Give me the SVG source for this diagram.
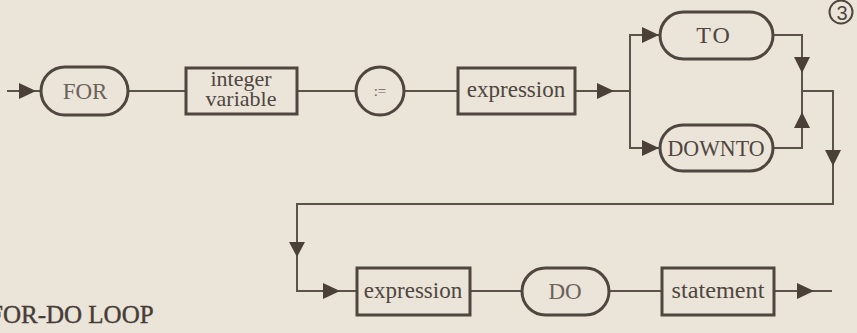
<svg xmlns="http://www.w3.org/2000/svg" width="857" height="333" viewBox="0 0 857 333">
<style>
.bg{fill:#ebe4d9}
.node{fill:none;stroke:#4f4640;stroke-width:3}
.conn{fill:none;stroke:#5a524b;stroke-width:2}
.ah{fill:#4a4038;stroke:none}
.t{font-size:23px;fill:#4f4640;text-anchor:middle}
.kw{fill:#6a625b}
.title{font-size:25px;fill:#463d37;stroke:#463d37;stroke-width:0.4}
</style>
<rect class="bg" x="0" y="0" width="857" height="333"/>

<g id="connectors">
  <path class="conn" d="M7,91 H41"/>
  <path class="conn" d="M128,91 H186"/>
  <path class="conn" d="M297,91 H356"/>
  <path class="conn" d="M404,91 H458"/>
  <path class="conn" d="M575,91 H630"/>
  <path class="conn" d="M660,35 H630 V148 H660"/>
  <path class="conn" d="M773,35 H802 V148 H773"/>
  <path class="conn" d="M802,91 H833 V204 H297 V291 H357"/>
  <path class="conn" d="M470,291 H522"/>
  <path class="conn" d="M609,291 H662"/>
  <path class="conn" d="M774,291 H832"/>
  <polygon class="ah" points="19,83 36,91 19,99"/>
  <polygon class="ah" points="597,83 614,91 597,99"/>
  <polygon class="ah" points="642,27 659,35 642,43"/>
  <polygon class="ah" points="642,140 659,148 642,156"/>
  <polygon class="ah" points="794,57 802,73 810,57"/>
  <polygon class="ah" points="794,128 802,112 810,128"/>
  <polygon class="ah" points="825,150 833,166 841,150"/>
  <polygon class="ah" points="289,242 297,257 305,242"/>
  <polygon class="ah" points="323,283 340,291 323,299"/>
  <polygon class="ah" points="797,283 814,291 797,299"/>
</g>

<g font-family="'Liberation Serif', 'DejaVu Serif', 'Times New Roman', serif">
<g id="n-for">
  <rect class="node" x="41" y="67" width="87" height="48" rx="24"/>
  <text class="t kw" x="85" y="99">FOR</text>
</g>
<g id="n-intvar">
  <rect class="node" x="186" y="68" width="111" height="46"/>
  <text class="t" x="241" y="86" style="font-size:22px">integer</text>
  <text class="t" x="241" y="106" style="font-size:22px">variable</text>
</g>
<g id="n-assign">
  <circle class="node" cx="380" cy="91" r="24"/>
  <text class="t kw" x="380" y="96" style="font-size:15px">:=</text>
</g>
<g id="n-expr1">
  <rect class="node" x="458" y="68" width="117" height="46"/>
  <text class="t" x="516" y="97">expression</text>
</g>
<g id="n-to">
  <rect class="node" x="660" y="12" width="113" height="47" rx="23.5"/>
  <text class="t" x="714" y="43" style="font-size:24px;letter-spacing:2px">TO</text>
</g>
<g id="n-downto">
  <rect class="node" x="660" y="125" width="113" height="46" rx="23"/>
  <text class="t" x="716" y="156" textLength="97" lengthAdjust="spacingAndGlyphs">DOWNTO</text>
</g>
<g id="n-expr2">
  <rect class="node" x="357" y="268" width="113" height="47"/>
  <text class="t" x="413" y="298">expression</text>
</g>
<g id="n-do">
  <rect class="node" x="522" y="268" width="87" height="47" rx="23.5"/>
  <text class="t kw" x="565" y="299">DO</text>
</g>
<g id="n-statement">
  <rect class="node" x="662" y="268" width="112" height="47"/>
  <text class="t" x="718" y="298" textLength="93" lengthAdjust="spacingAndGlyphs">statement</text>
</g>
<text class="title" x="-11" y="323">FOR-DO LOOP</text>
</g>

<g id="label-3">
  <circle cx="841" cy="12" r="11.5" fill="none" stroke="#4f4640" stroke-width="2"/>
  <text x="842" y="19.5" font-family="'Liberation Sans', Arial, sans-serif" font-size="20" fill="#4f4640" text-anchor="middle">3</text>
</g>
</svg>
